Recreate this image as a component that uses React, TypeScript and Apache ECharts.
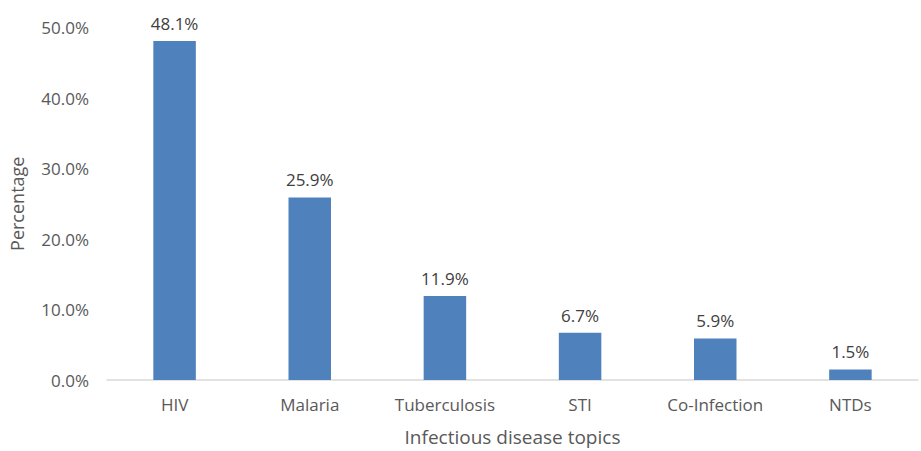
import React, { useEffect, useRef } from "react";
import * as echarts from "echarts";

const categories = ["HIV", "Malaria", "Tuberculosis", "STI", "Co-Infection", "NTDs"];
const values = [48.1, 25.9, 11.9, 6.7, 5.9, 1.5];

export default function App() {
  const ref = useRef<HTMLDivElement>(null);
  useEffect(() => {
    const chart = echarts.init(ref.current!, null, { renderer: "svg" });
    const font = "'Open Sans', 'Liberation Sans', sans-serif";
    chart.setOption({
      animation: false,
      textStyle: { fontFamily: font },
      grid: { left: 105, right: 3, top: 27.5, bottom: 68.3 },
      xAxis: {
        type: "category",
        data: categories,
        name: "Infectious disease topics",
        nameLocation: "middle",
        nameGap: 47,
        nameTextStyle: { color: "#595959", fontSize: 19, fontFamily: font },
        axisLine: { lineStyle: { color: "#d9d9d9", width: 1.5 } },
        axisTick: { show: false },
        axisLabel: { color: "#595959", fontSize: 17, margin: 16, fontFamily: font },
      },
      yAxis: {
        type: "value",
        min: 0,
        max: 50,
        interval: 10,
        name: "Percentage",
        nameLocation: "middle",
        nameGap: 81,
        nameTextStyle: { color: "#595959", fontSize: 18, fontFamily: font },
        axisLine: { show: false },
        axisTick: { show: false },
        splitLine: { show: false },
        axisLabel: {
          color: "#595959",
          fontSize: 17,
          margin: 18,
          fontFamily: font,
          formatter: (v: number) => v.toFixed(1) + "%",
        },
      },
      series: [
        {
          type: "bar",
          data: values,
          barWidth: 42.5,
          itemStyle: { color: "#4f81bd" },
          label: {
            show: true,
            position: "top",
            distance: 9,
            color: "#404040",
            fontSize: 17,
            fontFamily: font,
            formatter: (p: any) => p.value.toFixed(1) + "%",
          },
        },
      ],
    });
    return () => chart.dispose();
  }, []);
  return <div ref={ref} style={{ width: 921, height: 451, position: "absolute", left: 0, top: 0 }} />;
}
